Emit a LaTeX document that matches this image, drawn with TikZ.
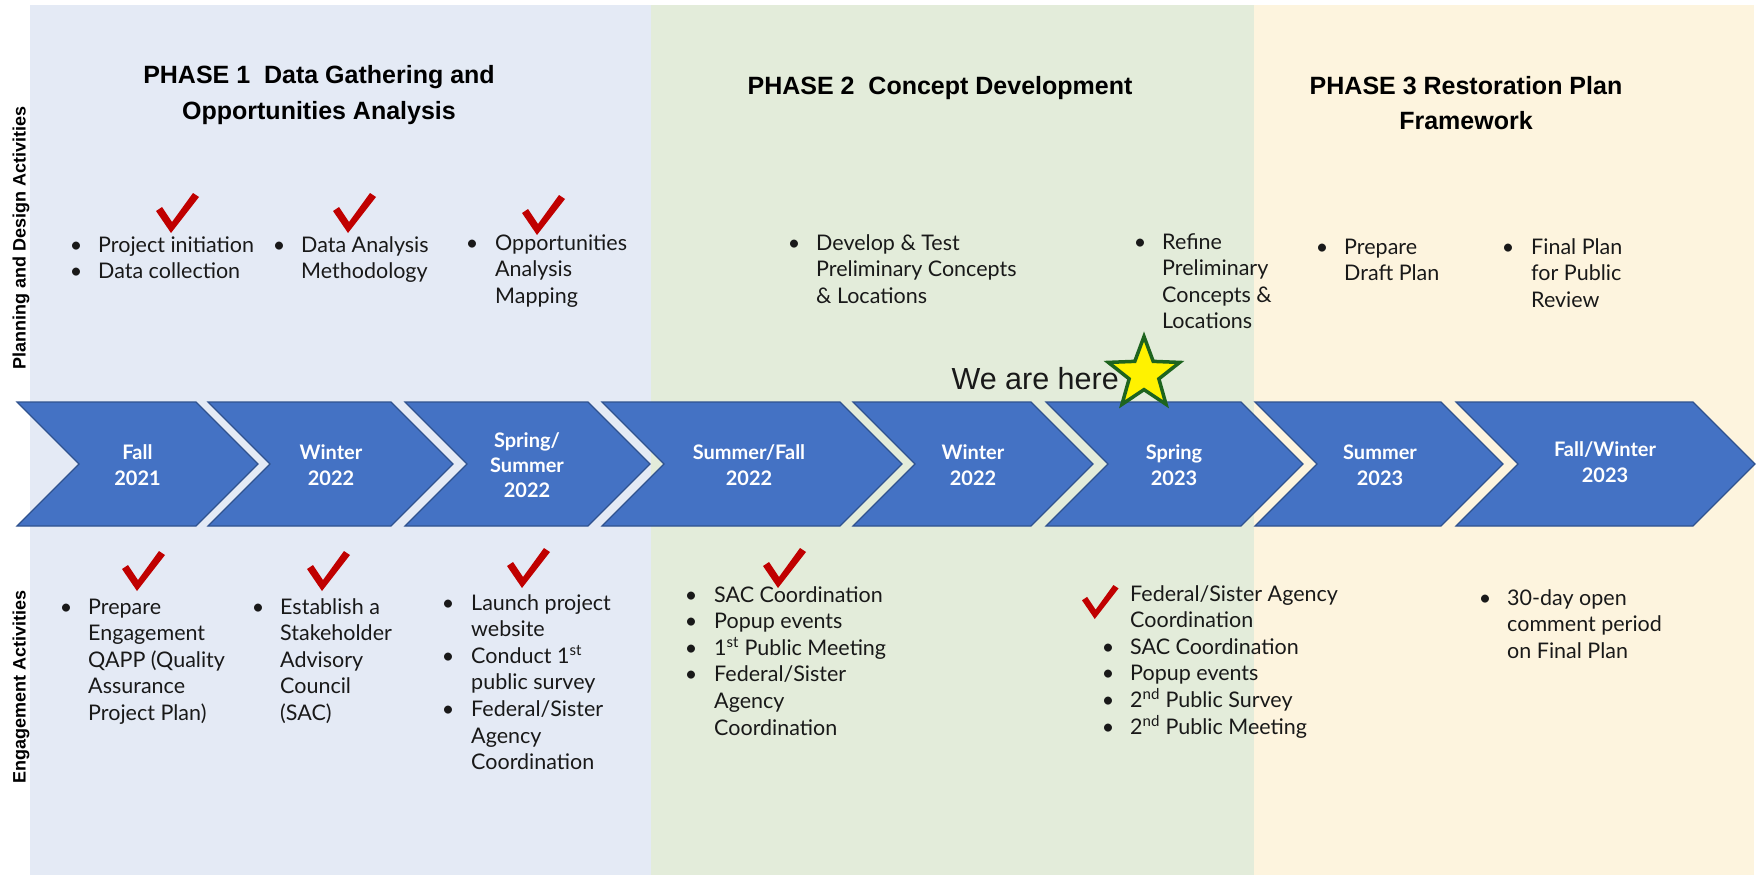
\documentclass[tikz,border=0pt]{standalone}
\usepackage{fontspec}
\setmainfont{Lato}
\newfontfamily\arialf{Liberation Sans}
\usetikzlibrary{shapes.geometric,calc}
\definecolor{bgone}{RGB}{228,234,245}
\definecolor{bgtwo}{RGB}{227,236,218}
\definecolor{bgthree}{RGB}{253,244,222}
\definecolor{chevfill}{RGB}{68,114,196}
\definecolor{chevline}{RGB}{47,82,143}
\definecolor{checkred}{RGB}{192,0,0}
\definecolor{stargreen}{RGB}{30,100,30}
\definecolor{txtc}{RGB}{25,25,25}
\tikzset{
  txt/.style={anchor=base west, inner sep=0pt, font=\fontsize{21.5}{25}\selectfont, text=txtc},
  bul/.style={anchor=base, inner sep=0pt, font=\fontsize{21.5}{25}\selectfont, text=txtc},
  chevtxt/.style={anchor=base, inner sep=0pt, font=\fontsize{20}{24}\selectfont\bfseries, text=white},
  ttl/.style={anchor=base, inner sep=0pt, font=\arialf\bfseries\fontsize{25}{30}\selectfont, text=black},
  axislab/.style={rotate=90, inner sep=0pt, font=\arialf\bfseries\fontsize{18}{22}\selectfont, text=black},
  chevstyle/.style={fill=chevfill, draw=chevline, line width=1.2pt, line join=miter},
  chk/.pic={\fill[checkred] (0,18) -- (6,14) -- (16,29) -- (37,0) -- (43,4) -- (15,40) -- cycle;}
}
% name, style, x, first baseline y, spacing, lines
\newcommand{\textlines}[6]{%
  \foreach \tline [count=\ii] in {#6} {\node[#2] (#1-\ii) at (#3, {#4+#5*(\ii-1)}) {\tline};}}
% name, bullet x, text x, y, lines
\newcommand{\bitem}[5]{%
  \node[bul] (#1-b) at (#2,#4) {\textbullet};
  \textlines{#1}{txt}{#3}{#4}{26.6}{#5}}
% left x, tip x
\newcommand{\chev}[2]{%
  \filldraw[chevstyle] (#1,402) -- ({#2-62},402) -- (#2,464) -- ({#2-62},526) -- (#1,526) -- ({#1+62},464) -- cycle;}
\begin{document}
\begin{tikzpicture}[x=1pt,y=-1pt]
\useasboundingbox (0,0) rectangle (1759,875);
\fill[white] (0,0) rectangle (1759,875);
% phase backgrounds
\fill[bgone] (30,5) rectangle (651,875);
\fill[bgtwo] (651,5) rectangle (1254,875);
\fill[bgthree] (1254,5) rectangle (1754,875);
% side labels
\node[axislab] (plan) at (21,238) {Planning and Design Activities};
\node[axislab] (eng) at (21,687) {Engagement Activities};
% titles
\node[ttl] (p1a) at (319,83) {PHASE 1\ \ Data Gathering and};
\node[ttl] (p1b) at (319,119) {Opportunities Analysis};
\node[ttl] (p2) at (940,94) {PHASE 2\ \ Concept Development};
\node[ttl] (p3a) at (1466,94) {PHASE 3 Restoration Plan};
\node[ttl] (p3b) at (1466,129) {Framework};
% chevrons
\chev{17}{258}
\chev{208}{453}
\chev{405}{650}
\chev{602}{902}
\chev{853}{1093}
\chev{1046}{1303}
\chev{1255}{1503}
\chev{1456}{1755}
\textlines{c1}{chevtxt}{137.5}{459}{26}{Fall,2021}
\textlines{c2}{chevtxt}{331}{459}{26}{Winter,2022}
\textlines{c3}{chevtxt}{527}{447}{25}{Spring/,Summer,2022}
\textlines{c4}{chevtxt}{749}{459}{26}{Summer/Fall,2022}
\textlines{c5}{chevtxt}{973}{459}{26}{Winter,2022}
\textlines{c6}{chevtxt}{1174}{459}{26}{Spring,2023}
\textlines{c7}{chevtxt}{1380}{459}{26}{Summer,2023}
\textlines{c8}{chevtxt}{1605}{456}{26}{Fall/Winter,2023}
% planning activities
\bitem{t1a}{76}{98}{252}{Project initiation}
\bitem{t1b}{76}{98}{278.6}{Data collection}
\bitem{t2}{279}{301}{252}{Data Analysis,Methodology}
\bitem{t3}{472}{495}{250}{Opportunities,Analysis,Mapping}
\bitem{t4}{794}{816}{250}{Develop \& Test,Preliminary Concepts,\& Locations}
\bitem{t5}{1140}{1162}{249}{Refine,Preliminary,Concepts \&,Locations}
\bitem{t6}{1322}{1344}{254}{Prepare,Draft Plan}
\bitem{t7}{1508}{1531}{254}{Final Plan,for Public,Review}
% engagement activities
\bitem{b1}{66}{88}{614}{Prepare,Engagement,QAPP (Quality,Assurance,Project Plan)}
\bitem{b2}{258}{280}{614}{Establish a,Stakeholder,Advisory,Council,(SAC)}
\bitem{b3a}{448}{471}{610}{Launch project,website}
\bitem{b3b}{448}{471}{663.2}{Conduct 1\textsuperscript{st},public survey}
\bitem{b3c}{448}{471}{716.4}{Federal/Sister,Agency,Coordination}
\bitem{b4a}{691}{714}{602}{SAC Coordination}
\bitem{b4b}{691}{714}{628.6}{Popup events}
\bitem{b4c}{691}{714}{655.2}{1\textsuperscript{st} Public Meeting}
\bitem{b4d}{691}{714}{681.8}{Federal/Sister,Agency,Coordination}
\textlines{b5a}{txt}{1130}{601}{26.6}{Federal/Sister Agency,Coordination}
\bitem{b5b}{1108}{1130}{654.2}{SAC Coordination}
\bitem{b5c}{1108}{1130}{680.8}{Popup events}
\bitem{b5d}{1108}{1130}{707.4}{2\textsuperscript{nd} Public Survey}
\bitem{b5e}{1108}{1130}{734}{2\textsuperscript{nd} Public Meeting}
\bitem{b6}{1485}{1507}{605}{30-day open,comment period,on Final Plan}
% we are here
\node[anchor=base east, inner sep=0pt, font=\arialf\fontsize{30.5}{34}\selectfont, text=txtc] (wah) at (1119,389) {We are here};
\node[star, star points=5, star point ratio=2.4, minimum size=75pt, inner sep=0pt, fill=yellow, draw=stargreen, line width=3.5pt] (here) at (1144,374) {};
% check marks
\pic at (156,193) {chk};
\pic at (333,193) {chk};
\pic at (522,195) {chk};
\pic at (122,551) {chk};
\pic at (307,551) {chk};
\pic at (507,548) {chk};
\pic at (763,548) {chk};
\pic[scale=0.85] at (1082,585) {chk};
\end{tikzpicture}
\end{document}
